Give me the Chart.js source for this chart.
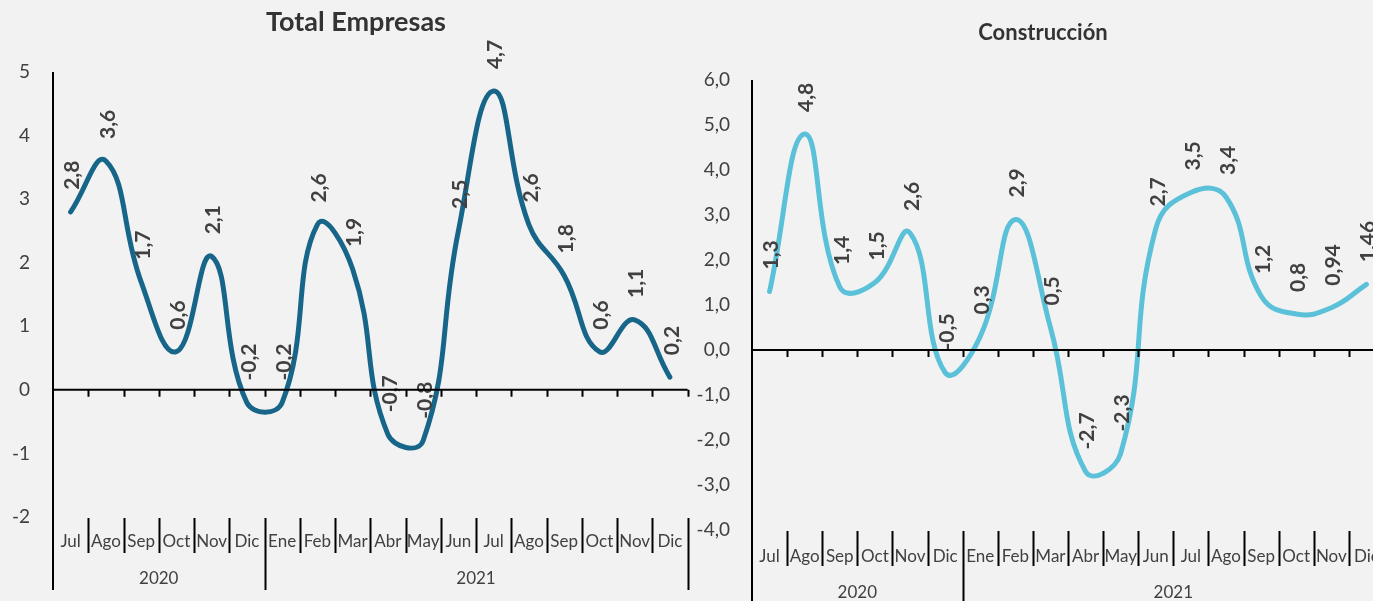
<!DOCTYPE html>
<html lang="es">
<head>
<meta charset="utf-8">
<title>Total Empresas / Construcción</title>
<script src="https://cdn.jsdelivr.net/npm/chart.js@4.4.1/dist/chart.umd.min.js"></script>
<style>
  html, body { margin: 0; padding: 0; background: #F2F2F2; }
  body { width: 1373px; height: 601px; overflow: hidden; position: relative; }
  .panel { position: absolute; top: 0; height: 601px; }
  #panelTotal { left: 0; width: 690px; }
  #panelConst { left: 690px; width: 700px; }
</style>
</head>
<body>
<div class="panel" id="panelTotal"><canvas id="chartTotal" width="690" height="601"></canvas></div>
<div class="panel" id="panelConst"><canvas id="chartConst" width="700" height="601"></canvas></div>

<script>
// ==========================================
// Datos
// ==========================================
const meses = ['Jul', 'Ago', 'Sep', 'Oct', 'Nov', 'Dic', 'Ene', 'Feb', 'Mar', 'Abr', 'May', 'Jun', 'Jul', 'Ago', 'Sep', 'Oct', 'Nov', 'Dic'];
const anios = ['2020', '2021'];
const mesesPorAnio = [6, 12];

const totalEmpresas = [2.8, 3.6, 1.7, 0.6, 2.1, -0.2, -0.2, 2.6, 1.9, -0.7, -0.8, 2.5, 4.7, 2.6, 1.8, 0.6, 1.1, 0.2];
const construccion = [1.3, 4.8, 1.4, 1.5, 2.6, -0.5, 0.3, 2.9, 0.5, -2.7, -2.3, 2.7, 3.5, 3.4, 1.2, 0.8, 0.94, 1.46];

const ejeTotal = { min: -2, max: 5, paso: 1 };
const ejeConst = { min: -4, max: 6, paso: 1 };

const TXT = '#404040';
const FUENTE = 'Lato, "Open Sans", sans-serif';

const coma = v => String(v).replace('.', ',');

// ==========================================
// Plugin: eje de categorías con años, título y etiquetas
// ==========================================
const ejeCategorias = {
  id: 'ejeCategorias',
  afterDraw(chart, args, opts) {
    const { ctx, chartArea: a, scales: { x, y } } = chart;
    const y0 = y.getPixelForValue(0);
    const n = meses.length;
    const mitad = (x.getPixelForValue(1) - x.getPixelForValue(0)) / 2;
    const borde = i => (i < n ? x.getPixelForValue(i) - mitad : x.getPixelForValue(n - 1) + mitad);

    // inicio de cada año
    const cortes = [0];
    mesesPorAnio.forEach(m => cortes.push(cortes[cortes.length - 1] + m));

    ctx.save();
    ctx.strokeStyle = '#000';
    ctx.lineWidth = 2;
    ctx.beginPath();
    // eje vertical
    ctx.moveTo(a.left, a.top);
    ctx.lineTo(a.left, a.bottom + opts.caidaAnio);
    // línea del cero
    ctx.moveTo(a.left, y0);
    ctx.lineTo(a.right, y0);
    for (let i = 1; i <= n; i++) {
      const bx = Math.round(borde(i)) + 0.5;
      ctx.moveTo(bx, y0);
      ctx.lineTo(bx, y0 + 7);
      const largo = cortes.includes(i) ? opts.caidaAnio : 36;
      ctx.moveTo(bx, a.bottom + 1);
      ctx.lineTo(bx, a.bottom + largo);
    }
    ctx.stroke();

    // meses
    ctx.fillStyle = TXT;
    ctx.font = '17px ' + FUENTE;
    ctx.textAlign = 'center';
    ctx.textBaseline = 'middle';
    meses.forEach((m, i) => ctx.fillText(m, x.getPixelForValue(i), a.bottom + opts.yMes));

    // años
    anios.forEach((an, k) => {
      const cx = (borde(cortes[k]) + borde(cortes[k + 1])) / 2;
      ctx.fillText(an, cx, a.bottom + opts.yAnio);
    });

    // título
    ctx.font = 'bold ' + opts.tamTitulo + 'px ' + FUENTE;
    ctx.fillStyle = '#333';
    ctx.fillText(opts.titulo, opts.xTitulo, opts.yTitulo);
    ctx.restore();
  },
  afterDatasetsDraw(chart) {
    const { ctx } = chart;
    const ds = chart.data.datasets[0];
    const meta = chart.getDatasetMeta(0);
    ctx.save();
    ctx.fillStyle = TXT;
    ctx.font = 'bold 21px ' + FUENTE;
    ctx.textAlign = 'left';
    ctx.textBaseline = 'middle';
    meta.data.forEach((pt, i) => {
      ctx.save();
      ctx.translate(pt.x + 2, pt.y - 22);
      ctx.rotate(-Math.PI / 2);
      ctx.fillText(coma(ds.data[i]), 0, 0);
      ctx.restore();
    });
    ctx.restore();
  }
};

function crearGrafico(id, datos, color, eje, formato, cfg) {
  return new Chart(document.getElementById(id), {
    type: 'line',
    data: {
      labels: meses,
      datasets: [{
        data: datos,
        borderColor: color,
        borderWidth: 5,
        borderCapStyle: 'round',
        borderJoinStyle: 'round',
        pointRadius: 0,
        tension: 0.45,
        fill: false
      }]
    },
    options: {
      responsive: false,
      animation: false,
      layout: { padding: cfg.padding },
      plugins: {
        legend: { display: false },
        tooltip: { enabled: false },
        ejeCategorias: cfg.eje
      },
      scales: {
        x: { type: 'category', offset: true, display: false },
        y: {
          min: eje.min,
          max: eje.max,
          afterFit: s => { s.width = cfg.anchoY; },
          border: { display: false },
          grid: { display: false, drawTicks: false },
          ticks: {
            stepSize: eje.paso,
            padding: cfg.padTicks,
            color: TXT,
            font: { family: FUENTE, size: 19 },
            callback: formato
          }
        }
      }
    },
    plugins: [ejeCategorias]
  });
}

crearGrafico('chartTotal', totalEmpresas, '#17668A', ejeTotal, v => String(v), {
  padding: { left: 0, right: 2.5, top: 72, bottom: 84 },
  anchoY: 53,
  padTicks: 23,
  eje: { titulo: 'Total Empresas', tamTitulo: 27, xTitulo: 356, yTitulo: 22, caidaAnio: 73, yMes: 25, yAnio: 62 }
});

crearGrafico('chartConst', construccion, '#5BC1D9', ejeConst, v => v.toFixed(1).replace('.', ','), {
  padding: { left: 0, right: 6, top: 80, bottom: 71 },
  anchoY: 62,
  padTicks: 22,
  eje: { titulo: 'Construcción', tamTitulo: 22, xTitulo: 353, yTitulo: 33, caidaAnio: 75, yMes: 27, yAnio: 63 }
});
</script>
</body>
</html>
